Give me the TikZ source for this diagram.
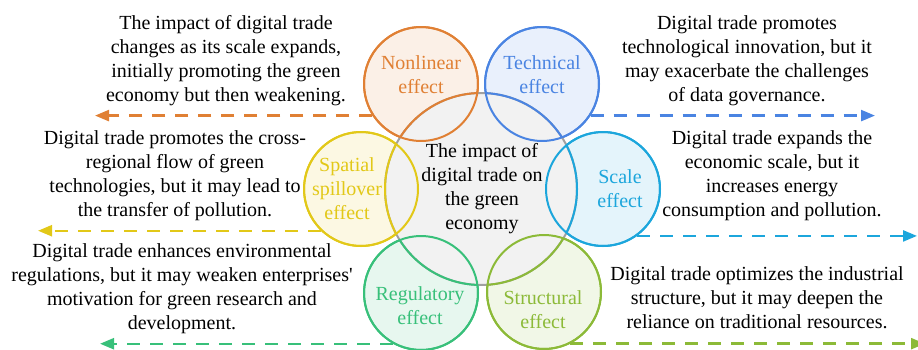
\documentclass[tikz,border=0pt]{standalone}
\usepackage{fontspec}
\setmainfont{Liberation Serif}
\usetikzlibrary{arrows.meta}
\definecolor{cnl}{RGB}{224,128,52}
\definecolor{ctech}{RGB}{74,132,226}
\definecolor{csp}{RGB}{226,200,24}
\definecolor{csc}{RGB}{28,166,220}
\definecolor{creg}{RGB}{56,192,122}
\definecolor{cst}{RGB}{140,186,56}
\definecolor{ccore}{RGB}{160,160,160}
\begin{document}
\begin{tikzpicture}[x=1pt,y=1pt,line join=round,>={Triangle[length=14pt,width=11pt]}]
	\tikzset{effect/.style={circle,inner sep=0pt,minimum size=114pt,line width=2pt,draw=#1,fill=#1!12},
		elabel/.style={align=center,text=#1,font=\fontsize{20}{24}\selectfont},
		note/.style={align=center,font=\fontsize{20}{24}\selectfont},
		flow/.style={->,dash pattern=on 13pt off 10pt,line width=2.4pt,draw=#1}}
	\useasboundingbox (0,0) rectangle (918,349);
	\coordinate (nlend) at (95,0); \coordinate (techend) at (875,0); \coordinate (spend) at (38,0);
	\coordinate (scend) at (917,0); \coordinate (regend) at (100,0); \coordinate (stend) at (925,0);
	\node[effect=cnl] (nl) at (421,265) {};
	\node[effect=ctech] (tech) at (542,265) {};
	\node[effect=csp] (sp) at (361,160) {};
	\node[effect=csc] (sc) at (603,160) {};
	\node[effect=creg] (reg) at (421,56) {};
	\node[effect=cst] (st) at (544,57) {};
	\draw[flow=cnl] (nl.213) -- (nl.213 -| nlend);
	\draw[flow=ctech] (tech.-33) -- (tech.-33 -| techend);
	\draw[flow=csp] (sp.226) -- (sp.226 -| spend);
	\draw[flow=csc] (sc.-54) -- (sc.-54 -| scend);
	\draw[flow=creg] (reg.241) -- (reg.241 -| regend);
	\draw[flow=cst] (st.-63) -- (st.-63 -| stend);
	\node[circle,inner sep=0pt,minimum size=192pt,line width=2pt,draw=ccore,fill=black!5] (core) at (481,160) {};
	\foreach \s/\c in {nl/cnl,tech/ctech,sp/csp,sc/csc,reg/creg,st/cst}{
		\begin{scope}
			\clip (\s.center) circle (57pt);
			\draw[\c,line width=2pt] (core.center) circle (96pt);
		\end{scope}
		\draw[\c,line width=2pt] (\s.center) circle (57pt);}
	\node[note] (corelab) at (482,160) {The impact of\\digital trade on\\the green\\economy};
	\node[elabel=cnl] (nllab) at (421,274) {Nonlinear\\effect};
	\node[elabel=ctech] (techlab) at (542,274) {Technical\\effect};
	\node[elabel=csp] (splab) at (347,160) {Spatial\\spillover\\effect};
	\node[elabel=csc] (sclab) at (620,160) {Scale\\effect};
	\node[elabel=creg] (reglab) at (420,43) {Regulatory\\effect};
	\node[elabel=cst] (stlab) at (543,39) {Structural\\effect};
	\node[note] (nltext) at (226,288) {The impact of digital trade\\changes as its scale expands,\\initially promoting the green\\economy but then weakening.};
	\node[note] (techtext) at (747,288) {Digital trade promotes\\technological innovation, but it\\may exacerbate the challenges\\of data governance.};
	\node[note] (sptext) at (175,173) {Digital trade promotes the cross-\\regional flow of green\\technologies, but it may lead to\\the transfer of pollution.};
	\node[note] (sctext) at (772,173) {Digital trade expands the\\economic scale, but it\\increases energy\\consumption and pollution.};
	\node[note] (regtext) at (182,60.5) {Digital trade enhances environmental\\regulations, but it may weaken enterprises\textquotesingle\\motivation for green research and\\development.};
	\node[note] (sttext) at (757,51.5) {Digital trade optimizes the industrial\\structure, but it may deepen the\\reliance on traditional resources.};
\end{tikzpicture}
\end{document}
